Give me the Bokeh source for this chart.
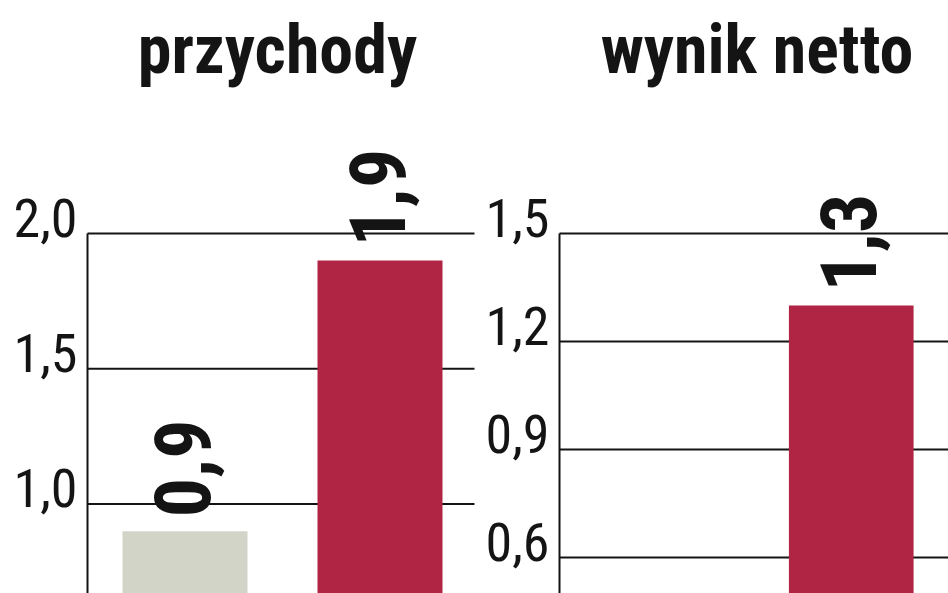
import math
from bokeh.plotting import figure
from bokeh.layouts import row
from bokeh.models import Range1d
from bokeh.core.properties import value
from bokeh.embed import file_html
from bokeh.resources import INLINE

# ---- data ----
categories = ["poprzedni rok", "bieżący rok"]
rev_title = "przychody"
rev_values = [0.9, 1.9]
rev_labels = ["0,9", "1,9"]
rev_ticks = [1.0, 1.5, 2.0]
rev_tick_labels = ["1,0", "1,5", "2,0"]

net_title = "wynik netto"
net_values = [None, 1.3]          # previous-year bar lies below the visible window
net_labels = ["", "1,3"]
net_ticks = [0.6, 0.9, 1.2, 1.5]
net_tick_labels = ["0,6", "0,9", "1,2", "1,5"]

colors = ["#d3d4c8", "#b02444"]
INK = "#141414"
FONT = "Roboto Condensed"


def panel(title, values, labels, ticks, tick_labels, width, xr, yr, grid_end, title_dx):
    p = figure(width=width, height=593, output_backend="svg", toolbar_location=None,
               x_range=Range1d(*xr), y_range=Range1d(*yr),
               min_border=0)
    p.outline_line_color = None
    p.axis.visible = False
    p.grid.visible = False
    p.background_fill_color = "white"
    p.border_fill_color = "white"

    top_tick = max(ticks)

    # panel title (placed relative to the top gridline)
    p.text(x=[len(categories) / 2], y=[top_tick], text=[title],
           x_offset=title_dx, y_offset=-184,
           text_align="center", text_baseline="middle",
           text_font=value(FONT), text_font_style="bold", text_font_size="68px",
           text_color=INK)

    # gridlines
    p.segment(x0=[0] * len(ticks), x1=[grid_end] * len(ticks), y0=ticks, y1=ticks,
              line_color=INK, line_width=2)
    # axis line
    p.segment(x0=[0], x1=[0], y0=[yr[0]], y1=[top_tick], line_color=INK, line_width=2)
    # tick labels
    p.text(x=[0] * len(ticks), y=ticks, text=tick_labels, x_offset=-10, y_offset=-16,
           text_align="right", text_baseline="middle",
           text_font=value(FONT), text_font_size="54px", text_color=INK)

    xs, tops, cols, labs = [], [], [], []
    for i, v in enumerate(values):
        if v is None:
            continue
        xs.append(i + 0.5)
        tops.append(v)
        cols.append(colors[i])
        labs.append(labels[i])
    p.vbar(x=xs, top=tops, bottom=yr[0] - 1, width=0.641, fill_color=cols,
           line_color=None)
    p.text(x=xs, y=tops, text=labs, angle=math.pi / 2, x_offset=-3, y_offset=-14,
           text_align="left", text_baseline="middle",
           text_font=value(FONT), text_font_style="bold", text_font_size="78px",
           text_color=INK)
    return p


left = panel(rev_title, rev_values, rev_labels, rev_ticks, rev_tick_labels, 476,
             (-87 / 195, 389 / 195), (2.0 - 360 / 270.6, 2.0 + 233 / 270.6), 387 / 195,
             -5)
right = panel(net_title, net_values, net_labels, net_ticks, net_tick_labels, 472,
              (-83 / 194.5, 389 / 194.5), (1.5 - 360 / 360, 1.5 + 233 / 360), 389 / 194.5,
              3)

layout = row(left, right, spacing=0)
open("out.html", "w").write(file_html(layout, INLINE))
